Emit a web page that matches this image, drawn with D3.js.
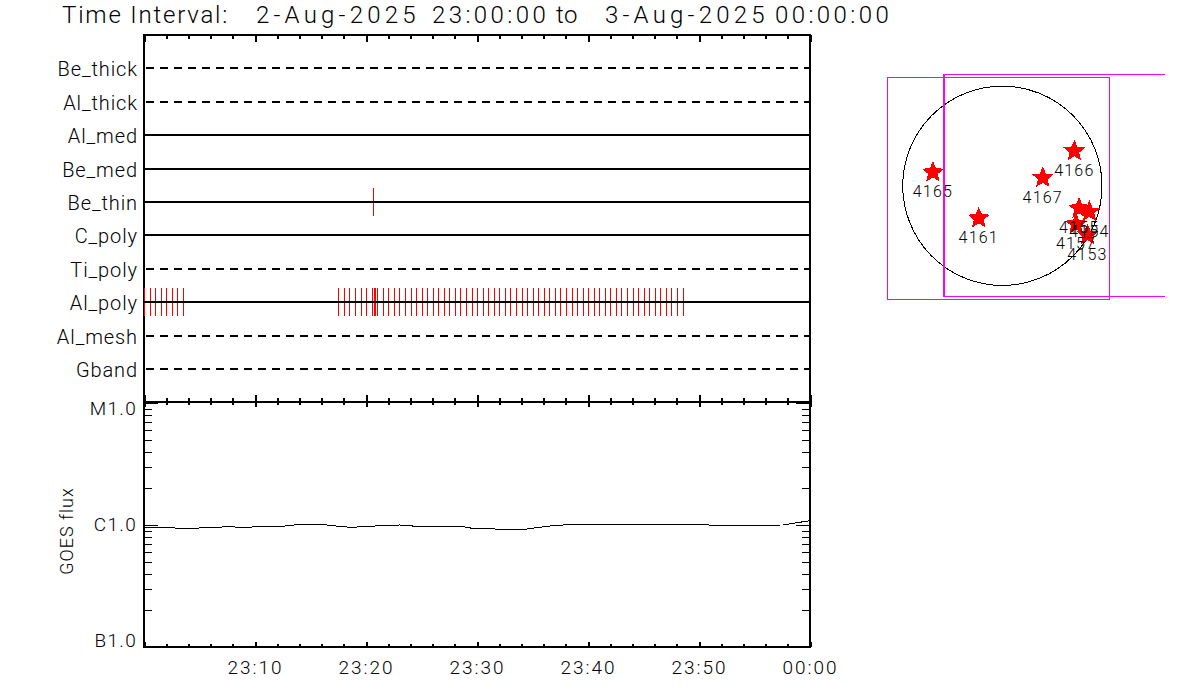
<!DOCTYPE html>
<html>
<head>
<meta charset="utf-8">
<script src="https://cdn.jsdelivr.net/npm/d3@7/dist/d3.min.js"></script>
<style>
  html, body { margin: 0; background: #fff; }
  text { font-family: "Roboto", "Open Sans", sans-serif; font-weight: 300; fill: #000; white-space: pre; }
</style>
</head>
<body>
<div id="chart"></div>
<script>
// time is minutes after 23:00, flux in W/m2, map in arcsec from disk centre
const titleParts = ["Time Interval:  ", "2-Aug-2025 ", "23:00:00 ", "to  ", "3-Aug-2025 ", "00:00:00"];

const filters = ["Gband", "Al_mesh", "Al_poly", "Ti_poly", "C_poly", "Be_thin", "Be_med", "Al_med", "Al_thick", "Be_thick"];
const dashedFilters = ["Gband", "Al_mesh", "Ti_poly", "Al_thick", "Be_thick"];

const bethinTimes = [20.63];
const alpolyTimes = [0, 0.54, 0.99, 1.53, 1.98, 2.52, 2.97, 3.51,
  17.48, 18.02, 18.47, 19.01, 19.55, 20.0, 20.54, 20.72, 20.81, 20.99, 21.53, 21.98, 22.52, 22.97,
  23.51, 24.05, 24.5, 25.05, 25.5, 26.04, 26.49, 27.03, 27.48, 28.02, 28.47, 29.01, 29.55, 30,
  30.54, 30.99, 31.53, 31.98, 32.52, 32.97, 33.51, 34.05, 34.5, 35.05, 35.5, 36.04, 36.49, 37.03,
  37.48, 38.02, 38.56, 39.01, 39.55, 40, 40.54, 40.99, 41.53, 41.98, 42.52, 42.97, 43.51, 44.05,
  44.5, 45.05, 45.5, 46.04, 46.49, 47.03, 47.48, 48.02, 48.56];

const goesTimes = [0, 3.51, 6.58, 7.48, 8.56, 12.43, 13.51, 15.5, 16.49, 17.57, 18.56, 20.54, 21.53, 23.06,
  24.5, 25.59, 27.57, 28.56, 29.55, 32.52, 34.5, 35.59, 36.58, 38.56, 46.49, 49.55, 51.53, 57.57, 58.83, 60];
const goesFlux = [9.63e-7, 9.4e-7, 9.5e-7, 9.76e-7, 9.57e-7, 9.76e-7, 1e-6, 1.013e-6, 1e-6, 9.76e-7, 9.57e-7, 9.76e-7, 9.94e-7, 1e-6,
  9.76e-7, 9.63e-7, 9.76e-7, 9.76e-7, 9.4e-7, 9.22e-7, 9.27e-7, 9.57e-7, 9.81e-7, 1.013e-6, 1.019e-6, 1.013e-6, 9.94e-7, 1e-6, 1.044e-6, 1.085e-6];

const timeTickMinutes = [10, 20, 30, 40, 50, 60];
const timeTickLabels = ["23:10", "23:20", "23:30", "23:40", "23:50", "00:00"];
const fluxTickValues = [1e-7, 1e-6, 1e-5];
const fluxTickLabels = ["B1.0", "C1.0", "M1.0"];
const fluxMinorValues = [2e-7, 3e-7, 4e-7, 5e-7, 6e-7, 7e-7, 8e-7, 9e-7, 2e-6, 3e-6, 4e-6, 5e-6, 6e-6, 7e-6, 8e-6, 9e-6];

const regionNames = ["4166", "4167", "4165", "4161", "4155", "4154", "4157", "4153"];
const regionX = [683, 383, -658, -224, 728, 826, 699, 807];
const regionY = [330, 77, 128, -308, -214, -246, -365, -467];
const solarRadius = 945;
const fovBox = [-1089, 1017, 1028, -1080];       // left, right, top, bottom
const pointingBox = [-556, 1545, 1058, -1052];

const svg = d3.select("#chart").append("svg").attr("width", 1200).attr("height", 700)
  .attr("shape-rendering", "crispEdges").style("display", "block");

const plotL = 144, plotR = 810, plotT = 35, plotM = 402, plotB = 647;
const x = d3.scaleLinear().domain([0, 60]).range([plotL, plotR]);
const yRow = d3.scaleLinear().domain([0, filters.length + 1]).range([plotM + 0.7, plotT - 0.3]);
const yFlux = d3.scaleLog().domain([1e-7, 1e-5]).range([plotB, plotM + 1]);
const snap = v => Math.round(v) + 0.5;
const rowY = name => Math.round(yRow(filters.indexOf(name) + 1));

// title pieces are spaced apart the way the vector font spaces them
const titleStartX = [62, 256, 432, 556, 605, 775];
const titleSpacing = [1.8, 4.2, 3.4, 0.5, 4.2, 3.4];
svg.append("text").attr("y", 23).attr("font-size", 24)
  .selectAll("tspan").data(titleParts).join("tspan")
  .attr("x", (d, i) => titleStartX[i]).attr("letter-spacing", (d, i) => titleSpacing[i]).text(d => d);

// frame
[[plotL, plotT, plotR, plotT], [plotL, plotM, plotR, plotM], [plotL, plotB, plotR, plotB],
 [plotL, plotT, plotL, plotB], [plotR, plotT, plotR, plotB]].forEach(s => {
  svg.append("line").attr("x1", s[0]).attr("y1", s[1]).attr("x2", s[2]).attr("y2", s[3])
    .attr("stroke", "#000").attr("stroke-width", 2).attr("stroke-linecap", "square");
});

// observation ticks go over the frame but under the row lines
function obsTicks(times, name) {
  svg.append("g").selectAll("line").data(times).join("line")
    .attr("x1", d => snap(x(d))).attr("x2", d => snap(x(d)))
    .attr("y1", rowY(name) - 14).attr("y2", rowY(name) + 14)
    .attr("stroke", "#ff0000").attr("stroke-width", 1);
}
obsTicks(alpolyTimes, "Al_poly");
obsTicks(bethinTimes, "Be_thin");

svg.append("g").selectAll("line").data(filters).join("line")
  .attr("x1", plotL).attr("x2", plotR)
  .attr("y1", rowY).attr("y2", rowY)
  .attr("stroke", "#000").attr("stroke-width", 2)
  .attr("stroke-dasharray", d => dashedFilters.includes(d) ? "8 6" : null)
  .attr("stroke-dashoffset", -2);

svg.append("g").selectAll("text").data(filters).join("text")
  .attr("x", 138).attr("y", d => rowY(d) + 8)
  .attr("text-anchor", "end").attr("font-size", 20).attr("letter-spacing", 0.9).text(d => d);

// GOES curve
const goesLine = d3.line().x(d => x(d[0])).y(d => yFlux(d[1]));
svg.append("path").datum(d3.zip(goesTimes, goesFlux))
  .attr("d", goesLine).attr("fill", "none").attr("stroke", "#000").attr("stroke-width", 1);

// time ticks, 2 min minor and 10 min major, on every horizontal edge
const allMinutes = d3.range(0, 61, 2);
function timeAxis(y, axisFn, minorLen, majorLen) {
  const g = svg.append("g").attr("transform", `translate(0,${y})`)
    .call(axisFn(x).tickValues(allMinutes).tickFormat(""));
  g.select(".domain").remove();
  g.selectAll(".tick line").attr("stroke", "#000").attr("stroke-width", 2)
    .each(function(d) {
      const len = d % 10 === 0 ? majorLen : minorLen;
      d3.select(this).attr("y2", axisFn === d3.axisBottom ? len : -len);
    });
}
timeAxis(plotT, d3.axisBottom, 4, 7);
timeAxis(plotM, d3.axisBottom, 3, 5);
timeAxis(plotM, d3.axisTop, 4, 7);
timeAxis(plotB, d3.axisTop, 3, 5);

const timeLabels = svg.append("g").attr("transform", `translate(0,${plotB})`)
  .call(d3.axisBottom(x).tickValues(timeTickMinutes).tickSize(0)
    .tickFormat((d, i) => timeTickLabels[i]));
timeLabels.select(".domain").remove();
timeLabels.attr("font-family", null).attr("font-size", null);
timeLabels.selectAll("text").attr("y", 27).attr("dy", null).attr("font-size", 19)
  .attr("letter-spacing", 2);

// log ticks on both sides of the flux panel
function fluxAxis(xPos, axisFn, values, len) {
  const g = svg.append("g").attr("transform", `translate(${xPos},0)`)
    .call(axisFn(yFlux).tickValues(values).tickSize(len).tickFormat(""));
  g.select(".domain").remove();
  g.selectAll(".tick line").attr("stroke", "#000").attr("stroke-width", 1);
}
fluxAxis(plotL, d3.axisRight, fluxMinorValues, 8);
fluxAxis(plotL, d3.axisRight, fluxTickValues, 14);
fluxAxis(plotR, d3.axisLeft, fluxMinorValues, 8);
fluxAxis(plotR, d3.axisLeft, fluxTickValues, 14);

svg.append("g").selectAll("text").data(fluxTickValues).join("text")
  .attr("x", 137).attr("y", d => yFlux(d) + 12 * (plotB - yFlux(d)) / (plotB - plotM))
  .attr("text-anchor", "end").attr("font-size", 19).attr("letter-spacing", 1.3)
  .text((d, i) => fluxTickLabels[i]);

svg.append("text").attr("transform", "translate(73,531) rotate(-90)")
  .attr("text-anchor", "middle").attr("font-size", 18).attr("letter-spacing", 1).text("GOES flux");

// solar disk map
const mx = d3.scaleLinear().domain([-solarRadius, solarRadius]).range([902.7, 1102]);
const my = d3.scaleLinear().domain([-solarRadius, solarRadius]).range([285.3, 86.3]);
const mapSnap = v => Math.floor(v) + 0.5;

svg.append("circle").attr("cx", mx(0)).attr("cy", my(0)).attr("r", mx(solarRadius) - mx(0))
  .attr("fill", "none").attr("stroke", "#000").attr("stroke-width", 1);

svg.append("rect").attr("x", mapSnap(mx(fovBox[0]))).attr("y", mapSnap(my(fovBox[2])))
  .attr("width", Math.round(mx(fovBox[1]) - mx(fovBox[0]))).attr("height", Math.round(my(fovBox[3]) - my(fovBox[2])))
  .attr("fill", "none").attr("stroke", "#ff00ff").attr("stroke-width", 1);

svg.append("path")
  .attr("d", `M${mx(pointingBox[1])},${mapSnap(my(pointingBox[2]))}H${mapSnap(mx(pointingBox[0]))}V${mapSnap(my(pointingBox[3]))}H${mx(pointingBox[1])}`)
  .attr("fill", "none").attr("stroke", "#ff00ff").attr("stroke-width", 1);
svg.append("line").attr("x1", mapSnap(mx(pointingBox[0])) + 1).attr("x2", mapSnap(mx(pointingBox[0])) + 1)
  .attr("y1", my(pointingBox[2])).attr("y2", my(pointingBox[3]))
  .attr("stroke", "#ff00ff").attr("stroke-width", 1);

// fatter than d3.symbolStar, like the plotted markers
const fatStar = {
  draw(ctx, size) {
    const r = Math.sqrt(size);
    for (let i = 0; i < 10; i++) {
      const a = -Math.PI / 2 + i * Math.PI / 5, rr = i % 2 ? r * 0.45 : r;
      if (i) ctx.lineTo(rr * Math.cos(a), rr * Math.sin(a));
      else ctx.moveTo(rr * Math.cos(a), rr * Math.sin(a));
    }
    ctx.closePath();
  }
};
const star = d3.symbol(fatStar, 132);
const regions = d3.zip(regionNames, regionX, regionY);
svg.append("g").selectAll("path").data(regions).join("path")
  .attr("d", star).attr("transform", d => `translate(${mx(d[1])},${my(d[2])})`)
  .attr("fill", "#ff0000");
svg.append("g").selectAll("text").data(regions).join("text")
  .attr("x", d => mx(d[1])).attr("y", d => my(d[2]) + 25)
  .attr("text-anchor", "middle").attr("font-size", 16).attr("letter-spacing", 1.2).text(d => d[0]);
</script>
</body>
</html>
